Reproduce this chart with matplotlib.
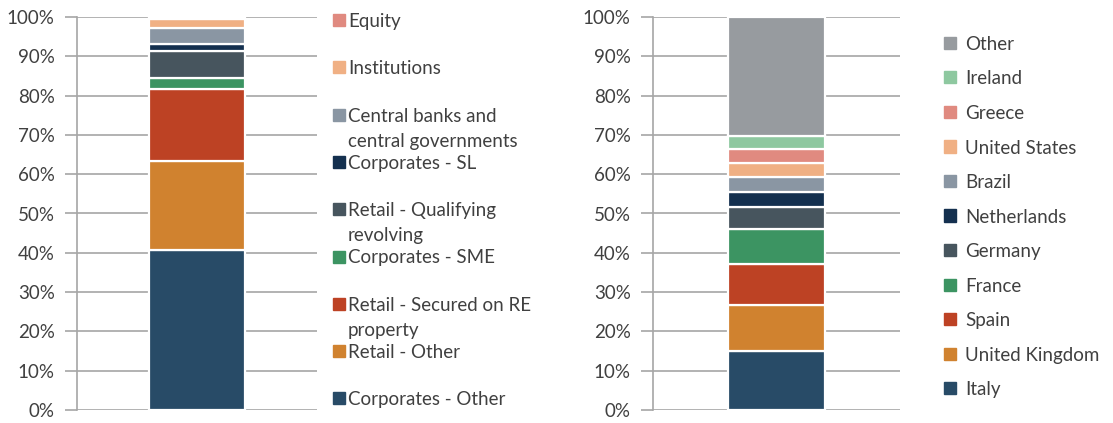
import matplotlib.pyplot as plt
from matplotlib.patches import Rectangle
from matplotlib.ticker import PercentFormatter

plt.rcParams['font.family'] = ['Lato', 'DejaVu Sans']

# Exposure class breakdown (bottom to top), %
classes = ["Corporates - Other", "Retail - Other", "Retail - Secured on RE\nproperty",
           "Corporates - SME", "Retail - Qualifying\nrevolving", "Corporates - SL",
           "Central banks and\ncentral governments", "Institutions", "Equity"]
class_vals = [40.7, 22.7, 18.2, 2.9, 6.8, 1.9, 4.0, 2.2, 0.6]

# Country breakdown (bottom to top), %
countries = ["Italy", "United Kingdom", "Spain", "France", "Germany", "Netherlands",
             "Brazil", "United States", "Greece", "Ireland", "Other"]
country_vals = [15.0, 11.8, 10.4, 8.8, 5.6, 3.9, 3.9, 3.5, 3.6, 3.1, 30.4]

c_blue = "#284b67"
c_orange = "#d0822f"
c_red = "#bd4224"
c_green = "#3c9462"
c_slate = "#47555e"
c_navy = "#14304f"
c_grey = "#8a96a3"
c_peach = "#f0b084"
c_salmon = "#e08a80"
c_mint = "#8ec8a0"
c_other = "#979b9f"

class_colors = [c_blue, c_orange, c_red, c_green, c_slate, c_navy, c_grey, c_peach, c_salmon]
country_colors = [c_blue, c_orange, c_red, c_green, c_slate, c_navy, c_grey, c_peach,
                  c_salmon, c_mint, c_other]

W, H = 1113, 423
fig = plt.figure(figsize=(W / 100, H / 100), dpi=100)
txt = "#404040"
fs = 13.5


def stacked(ax, vals, colors, width):
    bottom = 0
    for v, c in zip(vals, colors):
        ax.bar(0, v, width=width, bottom=bottom, color=c, edgecolor="white", linewidth=1.6, zorder=3)
        bottom += v
    ax.set_xlim(-0.5, 0.5)
    ax.set_ylim(0, 100)
    ax.set_yticks(range(0, 101, 10))
    ax.yaxis.set_major_formatter(PercentFormatter(decimals=0))
    ax.set_xticks([])
    ax.grid(axis="y", color="#a6a6a6", linewidth=1.2, zorder=0)
    for s in ["top", "right", "bottom"]:
        ax.spines[s].set_visible(False)
    ax.spines["left"].set_color("#a6a6a6")
    ax.spines["left"].set_linewidth(1.2)
    ax.tick_params(axis="y", length=9, width=1.2, color="#a6a6a6", labelsize=fs,
                   labelcolor=txt, pad=7)


def legend(labels, colors, x, y0, step, gap):
    for i, (lab, c) in enumerate(zip(labels, colors)):
        y = y0 + i * step
        fig.patches.append(Rectangle((x / W, 1 - (y + 6) / H), 12 / W, 12 / H,
                                     transform=fig.transFigure, color=c))
        for k, line in enumerate(lab.split("\n")):
            fig.text((x + gap) / W, 1 - (y + 7 + k * 25) / H, line, fontsize=fs,
                     color=txt, va="baseline", ha="left")


ax1 = fig.add_axes([77 / W, 13 / H, 240 / W, 393 / H])
stacked(ax1, class_vals, class_colors, 0.4)
legend(classes[::-1], class_colors[::-1], 333, 20, 47.3, 15)

ax2 = fig.add_axes([653 / W, 13 / H, 247 / W, 393 / H])
stacked(ax2, country_vals, country_colors, 0.39)
legend(countries[::-1], country_colors[::-1], 944, 43, 34.5, 21)

fig.savefig("out.png", dpi=100)
